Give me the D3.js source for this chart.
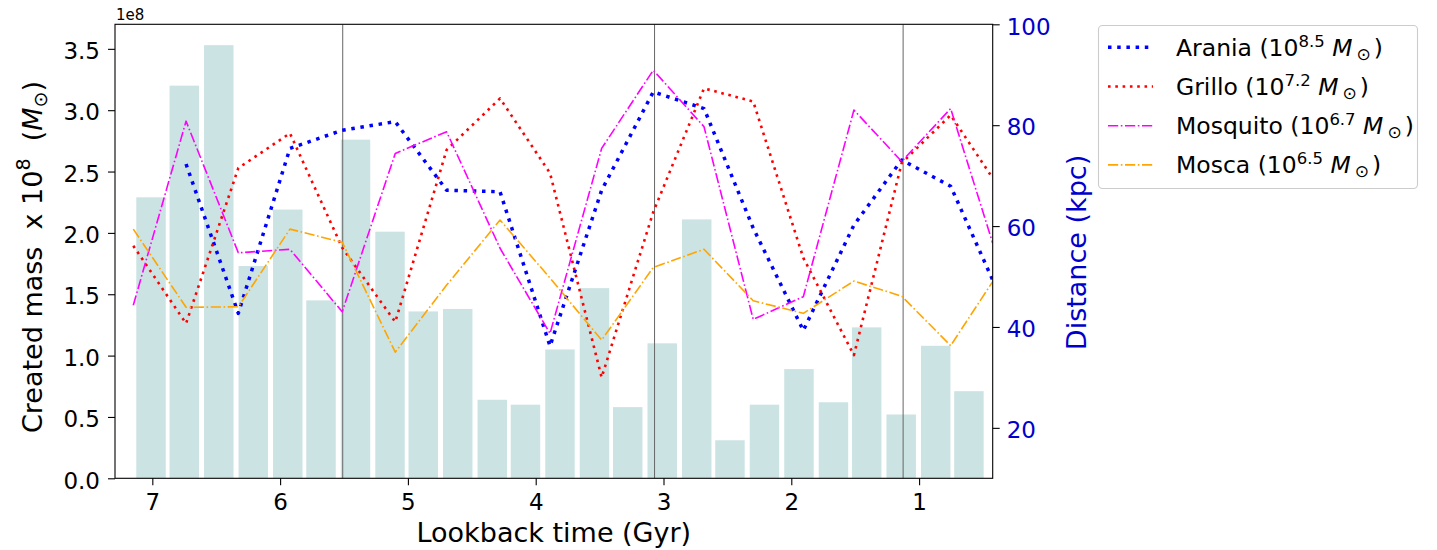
<!DOCTYPE html>
<html><head><meta charset="utf-8">
<script src="https://cdn.jsdelivr.net/npm/d3@7"></script>
<style>
body{margin:0;background:#fff;}
svg text{font-family:"DejaVu Sans",sans-serif;white-space:pre;}
</style></head><body>
<svg id="chart" width="1437" height="550"></svg>
<script>
// ---- data ----
const barTimes = [7.01, 6.75, 6.48, 6.21, 5.94, 5.68, 5.41, 5.14, 4.88, 4.61, 4.34, 4.08, 3.81, 3.54, 3.28, 3.01, 2.74, 2.48, 2.21, 1.94, 1.67, 1.41, 1.14, 0.87, 0.61];
const barMass = [2.29, 3.20, 3.53, 1.73, 2.19, 1.45, 2.76, 2.01, 1.36, 1.38, 0.64, 0.60, 1.05, 1.55, 0.58, 1.10, 2.11, 0.31, 0.60, 0.89, 0.62, 1.23, 0.52, 1.08, 0.71];
const lineTimes = [7.149, 6.736, 6.327, 5.923, 5.514, 5.099, 4.697, 4.279, 3.888, 3.484, 3.080, 2.683, 2.298, 1.906, 1.510, 1.136, 0.753, 0.424];
const arania   = [null, 72.3, 42.7, 75.4, 79.0, 80.7, 67.1, 66.8, 36.2, 67.1, 86.6, 83.3, 59.6, 39.3, 60.2, 73.1, 67.9, 49.3];
const grillo   = [56.1, 40.7, 71.5, 78.4, 55.7, 41.0, 75.1, 85.3, 70.5, 30.0, 62.8, 87.3, 84.7, 53.7, 34.4, 72.5, 82.0, 69.5];
const mosquito = [44.3, 80.8, 54.7, 55.4, 43.0, 74.4, 78.7, 55.6, 38.7, 75.4, 90.9, 79.7, 41.5, 46.0, 83.0, 72.8, 83.3, 56.6];
const mosca    = [59.4, 43.9, 44.0, 59.4, 56.8, 35.0, 48.3, 61.2, 49.7, 37.4, 51.8, 55.4, 45.2, 42.7, 49.1, 46.1, 36.3, 49.0];
const seriesNames = ["Arania", "Grillo", "Mosquito", "Mosca"];
const seriesExp = ["8.5", "7.2", "6.7", "6.5"];
const markerTimes = [5.51, 3.07, 1.125];
const xTicks = [1, 2, 3, 4, 5, 6, 7];
const massTicks = [0, 0.5, 1.0, 1.5, 2.0, 2.5, 3.0, 3.5];
const distTicks = [20, 40, 60, 80, 100];

// ---- styles ----
const seriesStyle = [
  {color:"#0000ff", width:3.5, dash:"3.5,5.7"},
  {color:"#ff0000", width:2.6, dash:"2.6,4.7"},
  {color:"#ff00ff", width:1.6, dash:"10.2,2.6,1.6,2.6"},
  {color:"#ffa500", width:1.6, dash:"10.2,2.6,1.6,2.6"}
];
const seriesValues = [arania, grillo, mosquito, mosca];
const axisBlue = "#0000cd";

const L = 115, R = 992.7, T = 24.3, B = 478.3;
const svg = d3.select("#chart");
const x = d3.scaleLinear().domain([7.292, 0.424]).range([L, R]);
const yM = d3.scaleLinear().domain([0, 3.7]).range([B, T]);
const yD = d3.scaleLinear().domain([10, 100]).range([B, T]);

svg.append("defs").append("clipPath").attr("id", "clip")
  .append("rect").attr("x", L).attr("y", T).attr("width", R - L).attr("height", B - T);

const plot = svg.append("g").attr("clip-path", "url(#clip)");

// bars
const barW = 0.2305;
plot.selectAll("rect.bar").data(barTimes.map((t, i) => ({t, v: barMass[i]})))
  .join("rect").attr("class", "bar")
  .attr("x", d => x(d.t + barW / 2))
  .attr("width", d => x(d.t - barW / 2) - x(d.t + barW / 2))
  .attr("y", d => yM(d.v))
  .attr("height", d => yM(0) - yM(d.v))
  .attr("fill", "#cce3e3");

// vertical markers
plot.selectAll("line.vm").data(markerTimes).join("line").attr("class", "vm")
  .attr("x1", d => x(d)).attr("x2", d => x(d))
  .attr("y1", T).attr("y2", B)
  .attr("stroke", "#666").attr("stroke-width", 1);

// lines
const lineGen = d3.line().defined(d => d.v != null).x(d => x(d.t)).y(d => yD(d.v));
seriesValues.forEach((vals, i) => {
  const pts = lineTimes.map((t, j) => ({t, v: vals[j]}));
  plot.append("path").datum(pts)
    .attr("d", lineGen)
    .attr("fill", "none")
    .attr("stroke", seriesStyle[i].color)
    .attr("stroke-width", seriesStyle[i].width)
    .attr("stroke-dasharray", seriesStyle[i].dash)
    .attr("stroke-linejoin", "round");
});

// frame
svg.append("rect").attr("x", L).attr("y", T).attr("width", R - L).attr("height", B - T)
  .attr("fill", "none").attr("stroke", "#000").attr("stroke-width", 1.1);

// axes
const tickFont = 23;
const gx = svg.append("g").attr("transform", `translate(0,${B})`)
  .call(d3.axisBottom(x).tickValues(xTicks).tickSize(7).tickFormat(d3.format("d")));
gx.select(".domain").remove();
gx.selectAll("line").attr("stroke", "#000").attr("stroke-width", 1.1);
gx.selectAll("text").attr("y", 31.7).attr("dy", null).attr("font-size", tickFont).attr("fill", "#000");

const gy = svg.append("g").attr("transform", `translate(${L},0)`)
  .call(d3.axisLeft(yM).tickValues(massTicks).tickSize(7).tickFormat(d3.format(".1f")));
gy.select(".domain").remove();
gy.selectAll("line").attr("stroke", "#000").attr("stroke-width", 1.1);
gy.selectAll("text").attr("x", -15).attr("dy", null).attr("y", 9.7).attr("font-size", tickFont).attr("fill", "#000");

const gr = svg.append("g").attr("transform", `translate(${R},0)`)
  .call(d3.axisRight(yD).tickValues(distTicks).tickSize(7).tickFormat(d3.format("d")));
gr.select(".domain").remove();
gr.selectAll("line").attr("stroke", "#000").attr("stroke-width", 1.1);
gr.selectAll("text").attr("x", 14).attr("dy", null).attr("y", 9.7).attr("font-size", tickFont).attr("fill", axisBlue);

// offset text
svg.append("text").attr("x", 116).attr("y", 20).attr("font-size", 15).attr("fill", "#000").text("1e8");

// axis labels
const labFont = 27;
svg.append("text").attr("x", (L + R) / 2).attr("y", 541.7).attr("text-anchor", "middle")
  .attr("font-size", labFont).attr("fill", "#000").text("Lookback time (Gyr)");

const yl = svg.append("text").attr("transform", "translate(42,257) rotate(-90)")
  .attr("text-anchor", "middle").attr("font-size", labFont).attr("fill", "#000");
yl.append("tspan").text("Created mass  x 10");
yl.append("tspan").attr("font-size", 19).attr("dy", -12).text("8");
yl.append("tspan").attr("dy", 12).text("  (");
yl.append("tspan").attr("font-style", "italic").text("M");
yl.append("tspan").attr("font-size", 19).attr("dy", 5).text("⊙");
yl.append("tspan").attr("dy", -5).text(")");

svg.append("text").attr("transform", "translate(1086,252.5) rotate(-90)")
  .attr("text-anchor", "middle").attr("font-size", labFont).attr("fill", axisBlue).text("Distance (kpc)");

// legend
const leg = svg.append("g");
leg.append("rect").attr("x", 1098.5).attr("y", 25.5).attr("width", 319).attr("height", 163)
  .attr("rx", 4).attr("fill", "#fff").attr("stroke", "#cccccc").attr("stroke-width", 1.1);
const legFont = 23.5;
const rows = leg.selectAll("g.row").data(seriesNames).join("g").attr("class", "row")
  .attr("transform", (d, i) => `translate(0,${47.3 + i * 39.2})`);
rows.append("line").attr("x1", 1108).attr("x2", 1153).attr("y1", 0).attr("y2", 0)
  .attr("stroke", (d, i) => seriesStyle[i].color)
  .attr("stroke-width", (d, i) => seriesStyle[i].width)
  .attr("stroke-dasharray", (d, i) => seriesStyle[i].dash);
rows.each(function(d, i) {
  const t = d3.select(this).append("text").attr("x", 1176).attr("y", 8.4)
    .attr("font-size", legFont).attr("fill", "#000");
  t.append("tspan").text(d + " (10");
  t.append("tspan").attr("font-size", 16.5).attr("dy", -9).text(seriesExp[i]);
  t.append("tspan").attr("dy", 9).text(" ");
  t.append("tspan").attr("font-style", "italic").text("M");
  t.append("tspan").attr("font-size", 17).attr("dy", 4).attr("dx", 4).text("⊙");
  t.append("tspan").attr("dy", -4).attr("dx", 3).text(")");
});
</script>
</body></html>
